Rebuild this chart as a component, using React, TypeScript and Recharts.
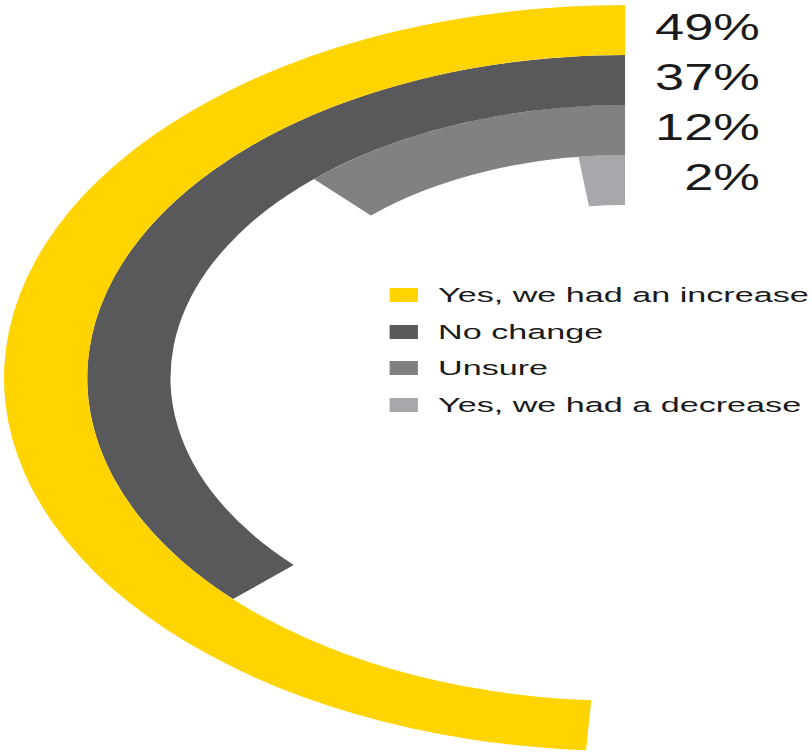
import React from 'react';
import { RadialBarChart, RadialBar, PolarAngleAxis, PolarRadiusAxis, Legend, LabelList, Cell } from 'recharts';

// inner ring first (radius axis runs inside -> outside)
const answers = ['Yes, we had a decrease', 'Unsure', 'No change', 'Yes, we had an increase'];
const shares = [2, 12, 37, 49];
const colors = ['#a7a8ab', '#808180', '#59595c', '#ffd400'];

const data = answers.map((name, i) => ({ name, value: shares[i] }));

// source graphic is stretched horizontally
const STRETCH = 1.665;
const W = 488;
const H = 754;

const PercentLabel = (props: any) => {
  const { viewBox, value } = props;
  if (!viewBox) return null;
  const r = (viewBox.innerRadius + viewBox.outerRadius) / 2;
  const x = viewBox.cx + 81;
  const y = viewBox.cy - r - 3;
  return (
    <text
      transform={`translate(${x},${y}) scale(0.85,1)`}
      textAnchor="end"
      dominantBaseline="central"
      fontSize={37}
      fontFamily="'Liberation Sans', Arial, sans-serif"
      fill="#1a1a1a"
    >
      {`${value}%`}
    </text>
  );
};

const LegendList = () => (
  <div style={{ fontFamily: "'Liberation Sans', Arial, sans-serif", fontSize: 20.5, color: '#1a1a1a' }}>
    {answers
      .map((name, i) => ({ name, color: colors[i] }))
      .reverse()
      .map((item) => (
        <div key={item.name} style={{ display: 'flex', alignItems: 'center', height: 36.5, whiteSpace: 'nowrap' }}>
          <span style={{ display: 'inline-block', width: 17, height: 14, background: item.color, marginRight: 12.5 }} />
          <span>{item.name}</span>
        </div>
      ))}
  </div>
);

export default function App() {
  return (
    <div style={{ position: 'absolute', left: 0, top: 0, width: 812, height: 754, overflow: 'hidden', background: '#fff' }}>
      <div style={{ width: W, height: H, transform: `scaleX(${STRETCH})`, transformOrigin: '0 0' }}>
        <RadialBarChart
          width={W}
          height={H}
          data={data}
          cx={375.4}
          cy={378}
          innerRadius={173}
          outerRadius={373}
          startAngle={90}
          endAngle={450}
          barCategoryGap={0}
          barGap={0}
          margin={{ top: 0, right: 0, bottom: 0, left: 0 }}
        >
          <PolarAngleAxis type="number" domain={[0, 100]} tick={false} axisLine={false} />
          <PolarRadiusAxis type="category" dataKey="name" tick={false} axisLine={false} tickLine={false} />
          <RadialBar dataKey="value" isAnimationActive={false}>
            {data.map((d, i) => (
              <Cell key={d.name} fill={colors[i]} />
            ))}
            <LabelList dataKey="value" content={PercentLabel} />
          </RadialBar>
          <Legend
            layout="vertical"
            content={LegendList}
            wrapperStyle={{ left: 233.6, top: 277, width: 260, bottom: 'auto' }}
          />
        </RadialBarChart>
      </div>
    </div>
  );
}
